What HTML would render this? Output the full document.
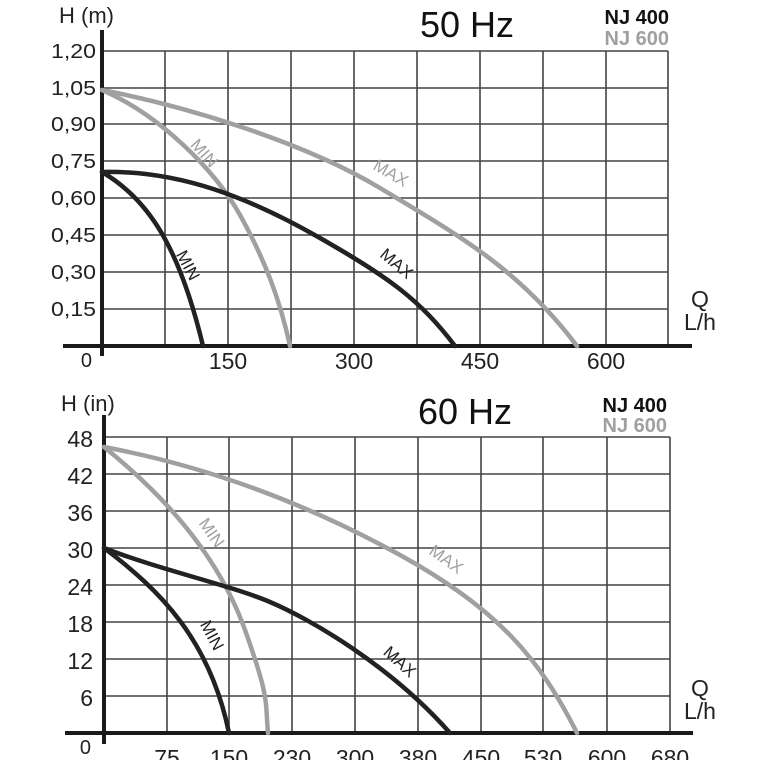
<!DOCTYPE html>
<html><head><meta charset="utf-8"><style>
html,body{margin:0;padding:0;background:#fff;width:760px;height:760px;overflow:hidden}
svg{display:block}
text{font-family:"Liberation Sans",Arial,sans-serif}
</style></head><body>
<svg width="760" height="760" viewBox="0 0 760 760">
<g stroke="#444" stroke-width="1.6" fill="none">
<path d="M102 51H668M102 88H668M102 124H668M102 161H668M102 198H668M102 235H668M102 272H668M102 309H668"/>
<path d="M165 51V346M228 51V346M291 51V346M354 51V346M417 51V346M480 51V346M543 51V346M606 51V346M668 51V346"/>
<path d="M104 437H670M104 474H670M104 511H670M104 548H670M104 585H670M104 622H670M104 659H670M104 696H670"/>
<path d="M167 437V733M229 437V733M292 437V733M355 437V733M418 437V733M481 437V733M543 437V733M607 437V733M670 437V733"/>
</g>
<g stroke="#1a1a1a" stroke-width="4" fill="none">
<path d="M63 346H692M102 30V356"/>
<path d="M65 733H693M104 415V744"/>
</g>
<g fill="none" stroke-width="4.5" stroke-linecap="round" stroke-linejoin="round">
<path stroke="#a0a0a0" d="M102 90 C180 105,300 140,380 188 S520 270,577 346"/>
<path stroke="#a0a0a0" d="M102 90 C160 115,215 170,240 215 S280 300,290 346"/>
<path stroke="#222" d="M102 172 C180 170,250 198,320 238 S420 300,455 346"/>
<path stroke="#222" d="M102 172 C150 200,180 250,203 346"/>
<path stroke="#a0a0a0" d="M104 447 C200 465,300 500,400 555 S540 660,577 733"/>
<path stroke="#a0a0a0" d="M104 447 C170 500,220 560,245 630 S265 700,268 733"/>
<path stroke="#222" d="M104 548 C160 570,230 585,270 602 S390 665,450 733"/>
<path stroke="#222" d="M104 548 C160 590,210 640,229 733"/>
</g>
<g font-size="20" fill="#222" text-anchor="end">
<text x="96" y="58" textLength="45" lengthAdjust="spacingAndGlyphs">1,20</text><text x="96" y="95" textLength="45" lengthAdjust="spacingAndGlyphs">1,05</text><text x="96" y="131" textLength="45" lengthAdjust="spacingAndGlyphs">0,90</text><text x="96" y="168" textLength="45" lengthAdjust="spacingAndGlyphs">0,75</text><text x="96" y="205" textLength="45" lengthAdjust="spacingAndGlyphs">0,60</text><text x="96" y="242" textLength="45" lengthAdjust="spacingAndGlyphs">0,45</text><text x="96" y="279" textLength="45" lengthAdjust="spacingAndGlyphs">0,30</text><text x="96" y="316" textLength="45" lengthAdjust="spacingAndGlyphs">0,15</text><text x="92" y="367">0</text>
<text x="93" y="447" font-size="23">48</text><text x="93" y="484" font-size="23">42</text><text x="93" y="521" font-size="23">36</text><text x="93" y="558" font-size="23">30</text><text x="93" y="595" font-size="23">24</text><text x="93" y="632" font-size="23">18</text><text x="93" y="669" font-size="23">12</text><text x="93" y="706" font-size="23">6</text><text x="91" y="754">0</text>
</g>
<g font-size="23" fill="#222" text-anchor="middle">
<text x="228" y="369">150</text><text x="354" y="369">300</text><text x="480" y="369">450</text><text x="606" y="369">600</text>
<text x="167" y="766">75</text><text x="229" y="766">150</text><text x="292" y="766">230</text><text x="355" y="766">300</text><text x="418" y="766">380</text><text x="481" y="766">450</text><text x="543" y="766">530</text><text x="607" y="766">600</text><text x="670" y="766">680</text>
<text x="700" y="307">Q</text><text x="700" y="330">L/h</text>
<text x="700" y="696">Q</text><text x="700" y="719">L/h</text>
</g>
<text x="59" y="23" font-size="22" fill="#222">H (m)</text>
<text x="61" y="411" font-size="22" fill="#222">H (in)</text>
<text x="420" y="37" font-size="36" fill="#111">50 Hz</text>
<text x="418" y="424" font-size="36" fill="#111">60 Hz</text>
<g font-size="20" font-weight="bold" text-anchor="end">
<text x="669" y="24" fill="#111">NJ 400</text><text x="669" y="45" fill="#a0a0a0">NJ 600</text>
<text x="667" y="412" fill="#111">NJ 400</text><text x="667" y="432" fill="#a0a0a0">NJ 600</text>
</g>
<g font-size="17" text-anchor="middle">
<text transform="translate(200,157) rotate(48)" fill="#a0a0a0">MIN</text>
<text transform="translate(388,178) rotate(30)" fill="#a0a0a0">MAX</text>
<text transform="translate(183,268) rotate(62)" fill="#222">MIN</text>
<text transform="translate(393,268) rotate(40)" fill="#222">MAX</text>
<text transform="translate(207,536) rotate(55)" fill="#a0a0a0">MIN</text>
<text transform="translate(443,564) rotate(35)" fill="#a0a0a0">MAX</text>
<text transform="translate(207,638) rotate(62)" fill="#222">MIN</text>
<text transform="translate(396,666) rotate(42)" fill="#222">MAX</text>
</g>
</svg>
</body></html>
